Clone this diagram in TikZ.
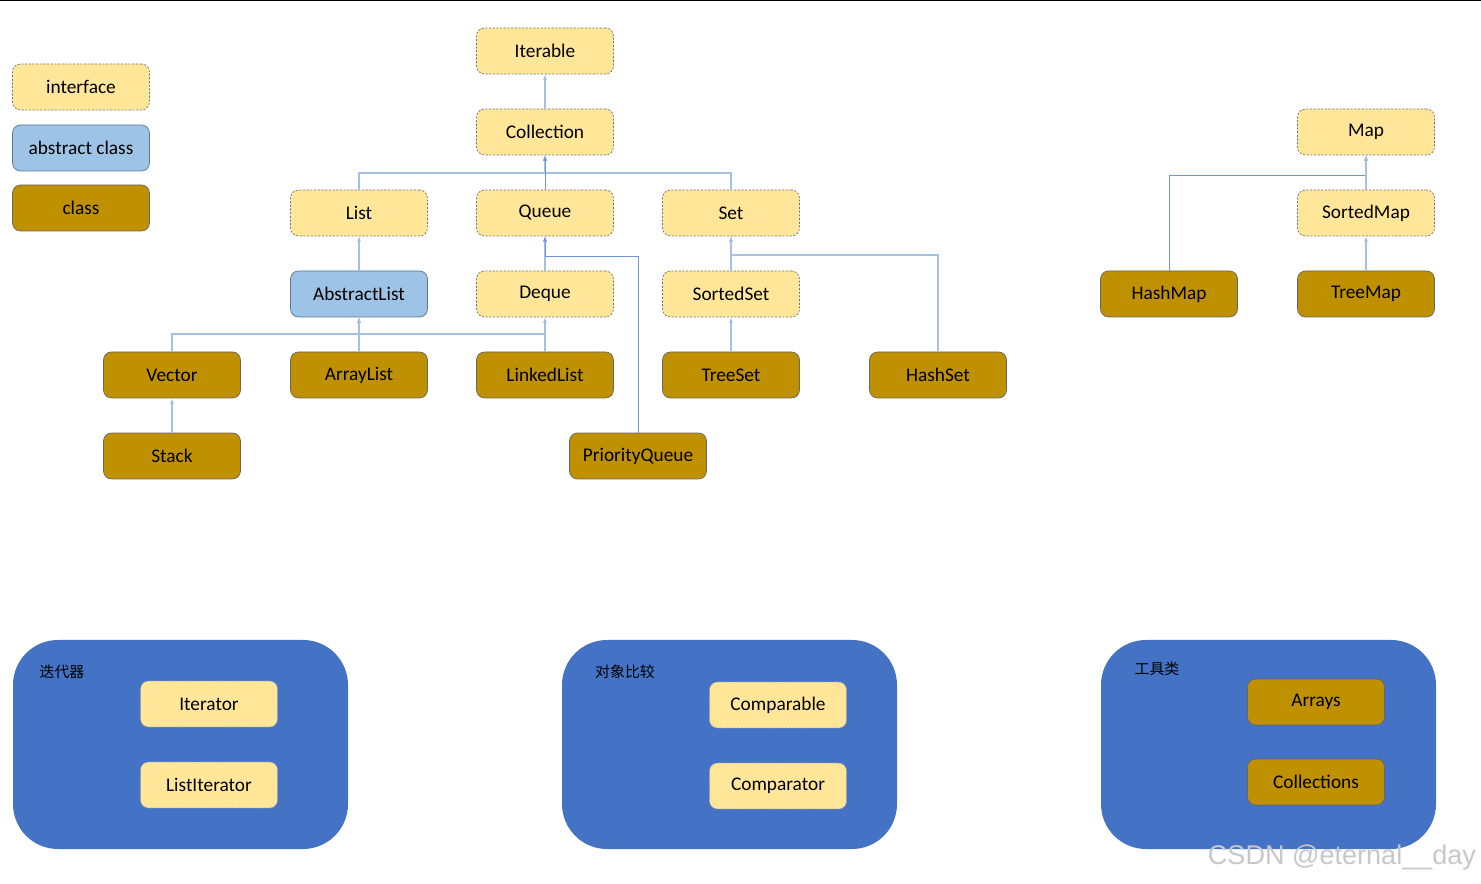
\documentclass[tikz,border=0pt]{standalone}
\usepackage{fontspec}
\setmainfont{Carlito}
\newfontfamily\cjk{Noto Sans CJK SC}
\newfontfamily\wmfont{Liberation Sans}
\usetikzlibrary{arrows.meta}

\definecolor{ifyellow}{HTML}{FFE699}
\definecolor{absblue}{HTML}{9DC3E6}
\definecolor{clsgold}{HTML}{BF9000}
\definecolor{boxblue}{HTML}{4472C4}
\definecolor{linklight}{HTML}{A6C0E2}
\definecolor{linkdark}{HTML}{7396D2}

\tikzset{
	iface/.style={draw=black!55, dash pattern=on 1.2pt off 0.9pt, fill=ifyellow, rounded corners=0.16cm,
		minimum width=2.74cm, minimum height=0.92cm, font=\fontsize{11}{13}\selectfont, line width=0.4pt},
	abscls/.style={iface, solid, fill=absblue, draw=black!40!absblue},
	cls/.style={iface, solid, fill=clsgold, draw=black!60},
	groupbox/.style={fill=boxblue, rounded corners=0.9cm},
	grouplabel/.style={font=\cjk\fontsize{8.5}{10}\selectfont},
	inherit/.style={draw=linklight, line width=0.6pt, -{Latex[length=3pt,width=2.4pt]}},
	inheritdark/.style={inherit, draw=linkdark, line width=0.5pt},
}

\begin{document}
\begin{tikzpicture}[x=0.02cm, y=-0.02cm]
		\useasboundingbox (0,0) rectangle (1481,884);
		\draw[line width=1.2pt] (0,0) -- (1481,0);
		% legend
		\node[iface] (lgif) at (81,87) {interface};
		\node[abscls] (lgabs) at (81,148) {abstract class};
		\node[cls] (lgcls) at (81,208) {class};
		% collection tree
		\node[iface] (iter) at (545,51) {Iterable};
		\node[iface] (coll) at (545,132) {Collection};
		\node[iface] (list) at (359,213) {List};
		\node[iface] (queue) at (545,213) {Queue};
		\node[iface] (set) at (731,213) {Set};
		\node[abscls] (alist) at (359,294) {AbstractList};
		\node[iface] (deque) at (545,294) {Deque};
		\node[iface] (sset) at (731,294) {SortedSet};
		\node[cls] (vec) at (172,375) {Vector};
		\node[cls] (arrl) at (359,375) {ArrayList};
		\node[cls] (llist) at (545,375) {LinkedList};
		\node[cls] (tset) at (731,375) {TreeSet};
		\node[cls] (hset) at (938,375) {HashSet};
		\node[cls] (stack) at (172,456) {Stack};
		\node[cls] (pq) at (638,456) {PriorityQueue};
		% map tree
		\node[iface] (map) at (1366,132) {Map};
		\node[iface] (smap) at (1366,213) {SortedMap};
		\node[cls] (hmap) at (1169,294) {HashMap};
		\node[cls] (tmap) at (1366,294) {TreeMap};
		% bends
		\coordinate (cbus) at (545,173);
		\coordinate (qbus) at (545,256);
		\coordinate (sbus) at (731,255);
		\coordinate (abus) at (359,334);
		\coordinate (mbus) at (1366,175);
		% links
		\draw[inherit] (coll) -- (iter);
		\draw[inherit] (list) |- (cbus) -- (coll);
		\draw[inherit] (set) |- (cbus) -- (coll);
		\draw[inheritdark] (queue) -- (coll);
		\draw[inherit] (alist) -- (list);
		\draw[inherit] (deque) -- (queue);
		\draw[inheritdark] (pq) |- (qbus) -- (queue);
		\draw[inherit] (sset) -- (set);
		\draw[inherit] (hset) |- (sbus) -- (set);
		\draw[inherit] (vec) |- (abus) -- (alist);
		\draw[inherit] (arrl) -- (alist);
		\draw[inherit] (llist) |- (abus) -- (alist);
		\draw[inherit] (llist) -- (deque);
		\draw[inherit] (stack) -- (vec);
		\draw[inherit] (tset) -- (sset);
		\draw[inheritdark] (hmap) |- (mbus) -- (map);
		\draw[inherit] (smap) -- (map);
		\draw[inherit] (tmap) -- (smap);
		% groups
		\fill[groupbox] (13,640) rectangle (348,849);
		\node[grouplabel] (gitlab) at (62,672) {迭代器};
		\node[iface, draw=black!35] (itr) at (209,704) {Iterator};
		\node[iface, draw=black!35] (litr) at (209,785) {ListIterator};
		\fill[groupbox] (562,640) rectangle (897,849);
		\node[grouplabel] (gcmplab) at (625,672) {对象比较};
		\node[iface, draw=black!35] (cmpb) at (778,705) {Comparable};
		\node[iface, draw=black!35] (cmpr) at (778,786) {Comparator};
		\fill[groupbox] (1101,640) rectangle (1436,849);
		\node[grouplabel] (gtoollab) at (1157,669) {工具类};
		\node[cls] (arrs) at (1316,702) {Arrays};
		\node[cls] (colls) at (1316,782) {Collections};
		% watermark
		\node[font=\wmfont\fontsize{15.4}{17}\selectfont, text=black!22] (wm) at (1342,858) {CSDN @eternal\_\_day};
	\end{tikzpicture}
\end{document}
